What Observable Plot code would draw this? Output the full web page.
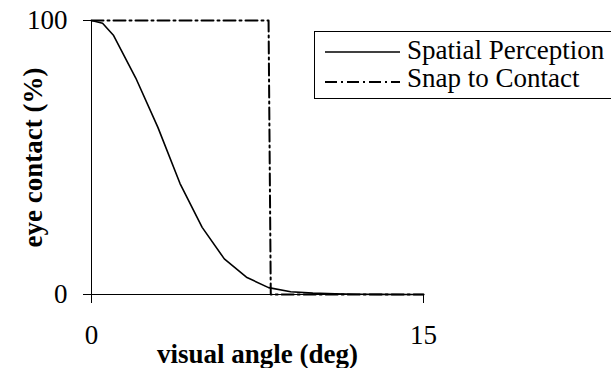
<!DOCTYPE html>
<html>
<head>
<meta charset="utf-8">
<script src="https://cdn.jsdelivr.net/npm/d3@7"></script>
<script src="https://cdn.jsdelivr.net/npm/@observablehq/plot@0.6"></script>
<style>
  html, body { margin: 0; padding: 0; background: #fff; }
  #chart svg { display: block; overflow: visible; }
</style>
</head>
<body>
<div id="chart"></div>
<script>
// Series: Spatial Perception
const spatialAngle = [0, 0.5, 1, 2, 3, 4, 5, 6, 7, 8, 9, 10, 11, 12, 13, 14, 15];
const spatialValue = [100, 99, 94.5, 79, 61, 40.5, 24.5, 13, 6.3, 2.5, 1, 0.5, 0.3, 0.1, 0.05, 0, 0];
// Series: Snap to Contact
const snapAngle = [0, 8, 8.1, 15];
const snapValue = [100, 100, 0, 0];
// Axis ticks and labels
const xTicks = [0, 15];
const yTicks = [0, 100];
const xLabel = "visual angle (deg)";
const yLabel = "eye contact (%)";
const seriesNames = ["Spatial Perception", "Snap to Contact"];

const spatial = spatialAngle.map((a, i) => ({angle: a, value: spatialValue[i]}));
const snap = snapAngle.map((a, i) => ({angle: a, value: snapValue[i]}));

const FONT = "'Liberation Serif', 'Times New Roman', serif";
const FS = 27;
const DASH = "12,4,2,4";

const plot = Plot.plot({
  width: 611,
  height: 368,
  marginLeft: 91,
  marginRight: 188,
  marginTop: 20,
  marginBottom: 74,
  style: {fontFamily: FONT, fontSize: FS + "px", color: "#000", background: "#fff", overflow: "visible"},
  x: {domain: [0, 15]},
  y: {domain: [0, 100]},
  marks: [
    Plot.ruleY([0], {x1: 0, x2: 15, stroke: "#000", strokeWidth: 1}),
    Plot.ruleX([0], {y1: 0, y2: 100, stroke: "#000", strokeWidth: 1}),
    Plot.axisX(xTicks, {tickSize: 9, tickPadding: 21, stroke: "#000", fontSize: FS, fontFamily: FONT, label: null}),
    Plot.axisY(yTicks, {tickSize: 8, tickPadding: 16, stroke: "#000", fontSize: FS, fontFamily: FONT, label: null}),
    Plot.line(snap, {x: "angle", y: "value", stroke: "#000", strokeWidth: 2, strokeDasharray: DASH}),
    Plot.line(spatial, {x: "angle", y: "value", stroke: "#000", strokeWidth: 1.6}),
    Plot.text([xLabel], {frameAnchor: "bottom", dy: 68, lineAnchor: "bottom", textAnchor: "middle", fontWeight: "bold", fontSize: FS, fontFamily: FONT, fill: "#000"}),
    Plot.text([yLabel], {frameAnchor: "left", dx: -58, rotate: -90, lineAnchor: "middle", textAnchor: "middle", fontWeight: "bold", fontSize: FS, fontFamily: FONT, fill: "#000"})
  ]
});

// Legend drawn into the same SVG
const svg = d3.select(plot);
const lg = svg.append("g").style("font-family", FONT).style("font-size", FS + "px").attr("text-anchor", "start");
lg.append("rect").attr("x", 314.5).attr("y", 31.5).attr("width", 320).attr("height", 67)
  .attr("fill", "#fff").attr("stroke", "#000").attr("stroke-width", 1);
const styles = [{dash: null, w: 1.6}, {dash: DASH, w: 2}];
seriesNames.forEach((name, i) => {
  const yc = 52 + i * 30;
  const ln = lg.append("line").attr("x1", 325).attr("x2", 400).attr("y1", yc).attr("y2", yc)
    .attr("stroke", "#000").attr("stroke-width", styles[i].w);
  if (styles[i].dash) ln.attr("stroke-dasharray", styles[i].dash);
  lg.append("text").attr("x", 407).attr("y", 59 + i * 28).attr("fill", "#000").attr("text-anchor", "start").text(name);
});

document.getElementById("chart").appendChild(plot);
</script>
</body>
</html>
